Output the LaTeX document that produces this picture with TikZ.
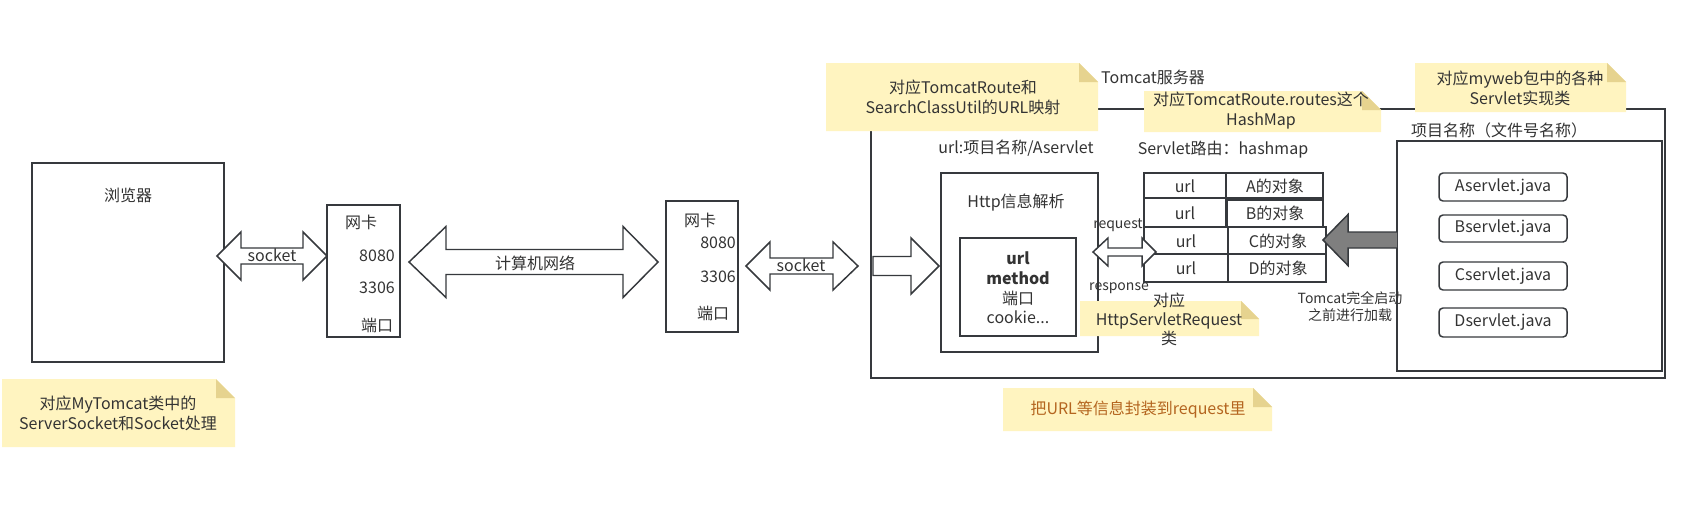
\documentclass[tikz,border=0pt]{standalone}
\usepackage{fontspec}
\setmainfont{Noto Sans CJK SC}
\definecolor{strk}{HTML}{36393D}
\definecolor{txt}{HTML}{333333}
\definecolor{notefill}{HTML}{FFF4C0}
\definecolor{notefold}{HTML}{E6D38F}
\definecolor{browntxt}{HTML}{B4651F}
\definecolor{grayarrow}{HTML}{7F7F7F}
\tikzset{
  box/.style={draw=strk, line width=1.1pt, fill=white},
  blockarrow/.style={draw=strk, line width=1.1pt, fill=white, line join=miter},
  lbl/.style={text=txt, inner sep=0pt, font=\fontsize{12}{15}\selectfont, align=center},
  small/.style={text=txt, inner sep=0pt, font=\fontsize{10.5}{13}\selectfont, align=center},
  servletbox/.style={draw=strk, line width=1.1pt, rounded corners=3pt, fill=white},
}
% double block arrow: x1 tip, x2 head base, x3 head base, x4 tip, y, head half, shaft half
\newcommand{\dblarr}[8][]{%
  \draw[blockarrow,#1] (#2,#6) -- (#3,{#6-#7}) -- (#3,{#6-#8}) -- (#4,{#6-#8}) -- (#4,{#6-#7}) -- (#5,#6)
    -- (#4,{#6+#7}) -- (#4,{#6+#8}) -- (#3,{#6+#8}) -- (#3,{#6+#7}) -- cycle;}
% note: x1,y1,x2,y2,fold
\newcommand{\notebg}[5]{%
  \fill[notefill] (#1,#2) -- ({#3-#5},#2) -- (#3,{#2+#5}) -- (#3,#4) -- (#1,#4) -- cycle;
  \fill[notefold] ({#3-#5},#2) -- ({#3-#5},{#2+#5}) -- (#3,{#2+#5}) -- cycle;}
\begin{document}
\begin{tikzpicture}[x=0.75pt,y=-0.75pt]
\useasboundingbox[fill=white] (0,0) rectangle (1698,512);

% ---------- browser ----------
\draw[box] (32,163) rectangle (224,362);
\node[lbl] (browser) at (128,195) {浏览器};

\notebg{2}{379}{235}{447}{19}
\node[lbl] (note1) at (118,413) {对应MyTomcat类中的\\ServerSocket和Socket处理};

% socket arrow 1
\dblarr{217}{241}{303}{327}{256}{24}{8}
\node[lbl] (sock1) at (272,255) {socket};

% NIC 1
\draw[box] (327,205) rectangle (400,337);
\node[lbl] (nic1a) at (361,222) {网卡};
\node[lbl] (nic1b) at (377,256) {8080};
\node[lbl] (nic1c) at (377,288) {3306};
\node[lbl] (nic1d) at (377,325) {端口};

% network arrow
\dblarr{409}{446}{623}{658}{262}{35.5}{12.5}
\node[lbl] (net) at (535,263) {计算机网络};

% NIC 2
\draw[box] (666,201) rectangle (738,332);
\node[lbl] (nic2a) at (700,220) {网卡};
\node[lbl] (nic2b) at (718,243) {8080};
\node[lbl] (nic2c) at (718,277) {3306};
\node[lbl] (nic2d) at (713,313) {端口};

% socket arrow 2
\dblarr{746}{770}{833}{858}{266}{24}{8}
\node[lbl] (sock2) at (801,265) {socket};

% ---------- Tomcat server ----------
\draw[strk, line width=1.1pt] (871,109) rectangle (1665,378);
\node[lbl] (tomcat) at (1153,77) {Tomcat服务器};

% hollow arrow into Http box
\draw[blockarrow] (873,256.5) -- (911,256.5) -- (911,238) -- (939,266) -- (911,294) -- (911,275.5) -- (873,275.5) -- cycle;

\notebg{826}{63}{1098}{131}{19}
\node[lbl] (note2) at (963,97) {对应TomcatRoute和\\SearchClassUtil的URL映射};

\notebg{1144}{91}{1381}{132}{19}
\node[lbl] (note3) at (1261,110.5) {对应TomcatRoute.routes这个\\HashMap};

\notebg{1415}{63}{1626}{112}{19}
\node[lbl] (note4) at (1520,88) {对应myweb包中的各种\\Servlet实现类};

\node[lbl] (urllbl) at (1016,148) {url:项目名称/Aservlet};
\node[lbl] (routelbl) at (1223,150) {Servlet路由：hashmap};

% Http box
\draw[box] (941,173) rectangle (1098,352);
\node[lbl] (http) at (1016,203) {Http信息解析};
\draw[box] (960,238) rectangle (1076,336);
\node[lbl, font=\bfseries\fontsize{12}{15}\selectfont] (i1) at (1018,258) {url};
\node[lbl, font=\bfseries\fontsize{12}{15}\selectfont] (i2) at (1018,278) {method};
\node[lbl] (i3) at (1018,298) {端口};
\node[lbl] (i4) at (1018,317) {cookie...};

\node[small] (req) at (1118,225) {request};
\node[small] (resp) at (1119,288) {response};

\notebg{1080}{301}{1259}{336}{18}
\node[lbl, font=\fontsize{12}{14.3}\selectfont] (note5) at (1169,319) {对应\\HttpServletRequest\\类};

% route table
\draw[box] (1144,173) rectangle (1226,198);
\draw[box] (1226,173) rectangle (1323,198);
\draw[box] (1144,198) rectangle (1226,227);
\draw[box] (1227,200) rectangle (1323,227);
\draw[box] (1144,227) rectangle (1228,254);
\draw[box] (1228,227) rectangle (1326,254);
\draw[box] (1144,254) rectangle (1228,282);
\draw[box] (1228,254) rectangle (1326,282);
\node[lbl] (u1) at (1185,186) {url};
\node[lbl] (u2) at (1185,213) {url};
\node[lbl] (u3) at (1186,241) {url};
\node[lbl] (u4) at (1186,268) {url};
\node[lbl] (o1) at (1275,186) {A的对象};
\node[lbl] (o2) at (1275,213) {B的对象};
\node[lbl] (o3) at (1278,241) {C的对象};
\node[lbl] (o4) at (1278,268) {D的对象};

% request/response arrow (drawn over the table)
\dblarr{1093}{1108}{1142}{1156}{252}{14}{4}

% project box
\draw[box] (1397,141) rectangle (1662,371);
\node[lbl] (proj) at (1499,130) {项目名称（文件号名称）};
\draw[servletbox] (1439,173) rectangle (1567,201);
\node[lbl] (sa) at (1503,187) {Aservlet.java};
\draw[servletbox] (1439,215) rectangle (1567,242);
\node[lbl] (sb) at (1503,228.5) {Bservlet.java};
\draw[servletbox] (1439,262) rectangle (1567,290);
\node[lbl] (sc) at (1503,276) {Cservlet.java};
\draw[servletbox] (1439,308) rectangle (1567,337);
\node[lbl] (sd) at (1503,322.5) {Dservlet.java};

% gray loading arrow
\draw[draw=strk, line width=1.1pt, fill=grayarrow, line join=miter] (1397,232) -- (1348,232) -- (1348,214.5) -- (1323,240) -- (1348,265.5) -- (1348,248) -- (1397,248);
\node[small] (load) at (1350,306.5) {Tomcat完全启动\\之前进行加载};

% bottom note
\notebg{1003}{388}{1272}{431}{19}
\node[lbl, text=browntxt] (note6) at (1138,410) {把URL等信息封装到request里};
\end{tikzpicture}
\end{document}
